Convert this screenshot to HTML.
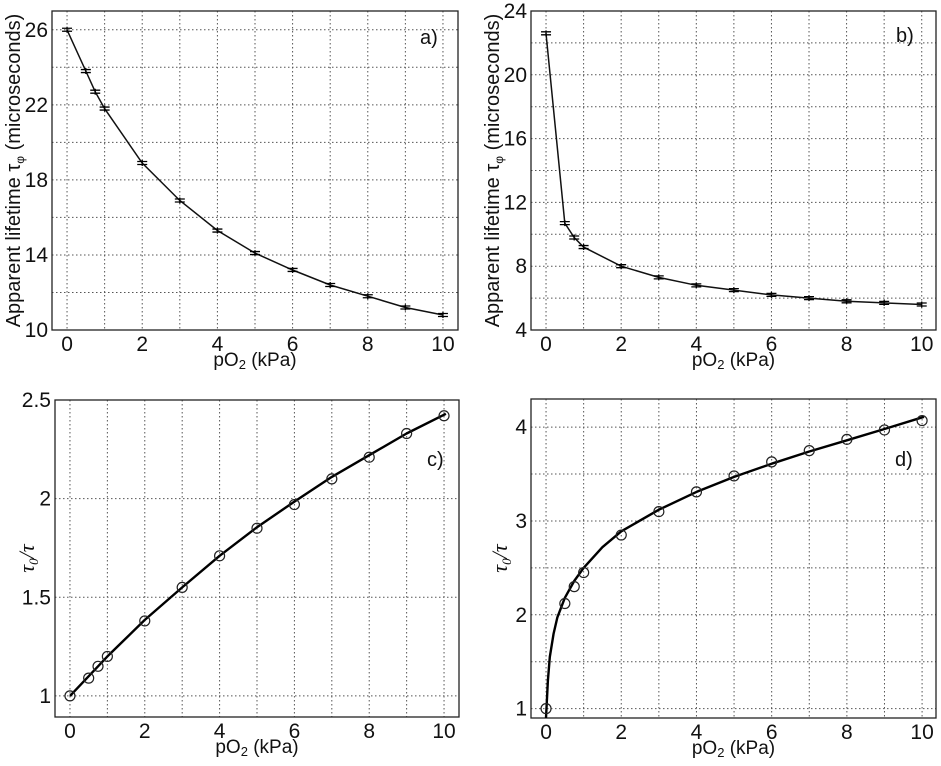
<!DOCTYPE html>
<html><head><meta charset="utf-8"><style>
body{margin:0;background:#fff;}
svg{display:block;font-family:"Liberation Sans",Arial,sans-serif;}
</style></head><body>
<svg id="fig" width="941" height="766" viewBox="0 0 941 766" xmlns="http://www.w3.org/2000/svg"></svg>
<script>
const xVals = [0,0.5,0.75,1,2,3,4,5,6,7,8,9,10];
const aVals = [26.0,23.8,22.7,21.8,18.9,16.9,15.3,14.1,13.2,12.4,11.8,11.2,10.8];
const bVals = [22.6,10.7,9.8,9.2,8.0,7.3,6.8,6.5,6.2,6.0,5.8,5.7,5.6];
const cVals = [1.0,1.09,1.15,1.20,1.38,1.55,1.71,1.85,1.97,2.10,2.21,2.33,2.42];
const dVals = [1.0,2.12,2.30,2.45,2.85,3.10,3.31,3.48,3.63,3.75,3.87,3.97,4.07];
const cFitX = [0,1,2,3,4,5,6,7,8,9,10.05];
const cFitY = [1.0,1.2,1.385,1.55,1.71,1.855,1.985,2.11,2.22,2.33,2.43];
const dFitX = [0,0.05,0.1,0.2,0.3,0.5,0.75,1,1.5,2,3,4,5,6,7,8,9,10.05];
const dFitY = [0.9,1.3,1.55,1.8,1.97,2.18,2.36,2.5,2.72,2.89,3.12,3.31,3.47,3.61,3.74,3.86,3.98,4.11];
const xTicks = [0,2,4,6,8,10];
const xGrid = [0,1,2,3,4,5,6,7,8,9,10];
const aTicks = [10,14,18,22,26];
const aGrid = [12,14,16,18,20,22,24,26];
const bTicks = [4,8,12,16,20,24];
const bGrid = [6,8,10,12,14,16,18,20,22];
const cTicks = [1,1.5,2,2.5];
const cGrid = [1,1.5,2];
const dTicks = [1,2,3,4];
const dGrid = [1,1.5,2,2.5,3,3.5,4];

const NS="http://www.w3.org/2000/svg";
const svg=document.getElementById('fig');
function mk(tag,attrs,parent){const e=document.createElementNS(NS,tag);for(const k in attrs)e.setAttribute(k,attrs[k]);(parent||svg).appendChild(e);return e;}

function panel(p){
  const g=mk('g',{});
  
  
  const sx=v=>p.L+(v-p.x0)/(p.x1-p.x0)*(p.R-p.L);
  const sy=v=>p.B-(v-p.y0)/(p.y1-p.y0)*(p.B-p.T);
  xGrid.forEach(v=>{const l=mk('line',{x1:sx(v),x2:sx(v),y1:p.T,y2:p.B,stroke:'#555','stroke-width':1,'stroke-dasharray':'1.5,2.5'},g);
    });
  p.grid.forEach(v=>{const l=mk('line',{x1:p.L,x2:p.R,y1:sy(v),y2:sy(v),stroke:'#555','stroke-width':1,'stroke-dasharray':'1.5,2.5'},g);
    });
  const box=mk('rect',{x:p.L,y:p.T,width:p.R-p.L,height:p.B-p.T,fill:'none',stroke:'#222','stroke-width':1.3},g);
  
  xTicks.forEach(v=>{const t=mk('text',{x:sx(v),y:p.B+21,'text-anchor':'middle','font-size':21,fill:'#111'},g);t.textContent=v;
    });
  p.ticks.forEach(v=>{const t=mk('text',{x:p.L-4,y:sy(v)+7,'text-anchor':'end','font-size':21,fill:'#111'},g);t.textContent=v;
    });
  const xt=mk('text',{x:(p.L+p.R)/2,y:p.B+36,'text-anchor':'middle','font-size':19,fill:'#111'},g);
  xt.innerHTML='pO<tspan font-size="13" dy="3">2</tspan><tspan dy="-3"> (kPa)</tspan>';
  
  const cy=(p.T+p.B)/2;
  const yt=mk('text',{x:p.ytx,y:cy,'text-anchor':'middle','font-size':p.ytSize,fill:'#111',transform:`rotate(-90 ${p.ytx} ${cy})`},g);
  yt.innerHTML=p.ytitle;
  
  const pl=mk('text',{x:p.lab[0],y:p.lab[1],'font-size':20,fill:'#111'},g);pl.textContent=p.label;
  
  if(p.fitX){
    let d='';p.fitX.forEach((x,i)=>{d+=(i?'L':'M')+sx(x).toFixed(1)+','+sy(p.fitY[i]).toFixed(1);});
    const path=mk('path',{d:d,fill:'none',stroke:'#000','stroke-width':2.4,'stroke-linejoin':'round'},g);
    
    xVals.forEach((x,i)=>{const c=mk('circle',{cx:sx(x),cy:sy(p.vals[i]),r:5,fill:'none',stroke:'#222','stroke-width':1.2},g);
      });
  } else {
    let d='';xVals.forEach((x,i)=>{d+=(i?'L':'M')+sx(x).toFixed(1)+','+sy(p.vals[i]).toFixed(1);});
    const path=mk('path',{d:d,fill:'none',stroke:'#111','stroke-width':1.5},g);
    
    xVals.forEach((x,i)=>{const X=sx(x),Y=sy(p.vals[i]);
      const e=mk('path',{d:`M${X-5},${Y-1.5}h10M${X-5},${Y+1.5}h10M${X},${Y-3}v6`,stroke:'#000','stroke-width':1.3,fill:'none'},g);
      });
  }
}
const ytA='Apparent lifetime τ<tspan font-size="12" dy="4">φ</tspan><tspan dy="-4"> (microseconds)</tspan>';
const ytC='<tspan font-family="Liberation Serif,serif" font-style="italic">τ<tspan font-size="13" dy="4">0</tspan><tspan dy="-4">/τ</tspan></tspan>';
panel({name:'panel-a',L:52,R:458,T:11,B:330,x0:-0.4,x1:10.4,y0:10,y1:27,ticks:aTicks,grid:aGrid,vals:aVals,ytitle:ytA,ytx:20,ytSize:20,label:'a)',lab:[420,44]});
panel({name:'panel-b',L:531,R:936,T:11,B:330,x0:-0.4,x1:10.38,y0:4,y1:24,ticks:bTicks,grid:bGrid,vals:bVals,ytitle:ytA,ytx:499,ytSize:20,label:'b)',lab:[896,42]});
panel({name:'panel-c',L:55,R:459,T:400,B:717,x0:-0.4,x1:10.4,y0:0.893,y1:2.5,ticks:cTicks,grid:cGrid,vals:cVals,fitX:cFitX,fitY:cFitY,ytitle:ytC,ytx:34,ytSize:22,label:'c)',lab:[427,466]});
panel({name:'panel-d',L:531,R:936,T:399,B:718,x0:-0.4,x1:10.37,y0:0.9,y1:4.3,ticks:dTicks,grid:dGrid,vals:dVals,fitX:dFitX,fitY:dFitY,ytitle:ytC,ytx:507,ytSize:22,label:'d)',lab:[895,466]});
</script>
</body></html>
